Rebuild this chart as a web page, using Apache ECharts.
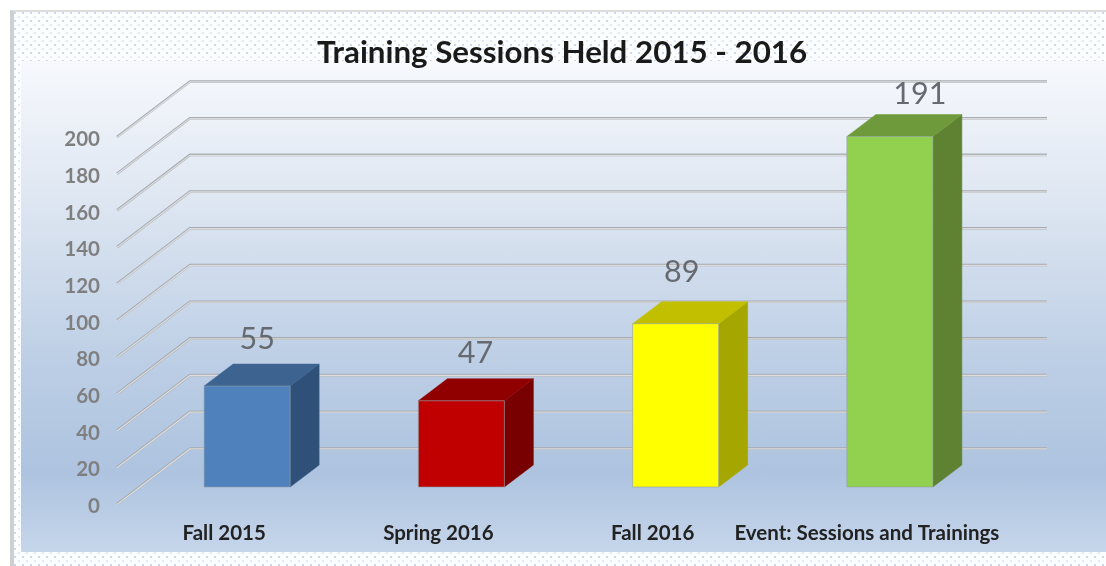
<!DOCTYPE html>
<html>
<head>
<meta charset="utf-8">
<script src="https://cdn.jsdelivr.net/npm/echarts@6/dist/echarts.min.js"></script>
<style>
html,body{margin:0;padding:0;background:#fff;width:1106px;height:566px;overflow:hidden}
#frame{position:absolute;left:10px;top:10px;right:0;bottom:0;box-sizing:border-box;
 border-left:4px solid #cfcfcf;border-top:2px solid #dcdcdc;
 background-color:#fcfdfe;
 background-image:radial-gradient(circle at 1px 1px,#c9d8ee 0.7px,transparent 1px),radial-gradient(circle at 1px 1px,#e0e8f4 0.7px,transparent 1px);
 background-size:8px 8px,8px 8px;background-position:0 0,4px 4px}
#panel{position:absolute;left:21px;top:61px;right:0;height:491px;
 background:linear-gradient(to bottom,#f7f9fd 0%,#dfe7f2 27%,#bccee5 62%,#adc3df 84%,#c6d6eb 100%)}
#chart{position:absolute;left:0;top:0;width:1106px;height:566px}
</style>
</head>
<body>
<div id="frame"></div>
<div id="panel"></div>
<div id="chart"></div>
<script>
const titleText = 'Training Sessions Held 2015 - 2016';
const categories = ['Fall 2015', 'Spring 2016', 'Fall 2016', 'Event: Sessions and Trainings'];
const sessions = [55, 47, 89, 191];
const yTicks = [0, 20, 40, 60, 80, 100, 120, 140, 160, 180, 200];

const frontColors = ['#4f81bd', '#c00000', '#ffff00', '#92d050'];
const topColors = ['#3d6391', '#900000', '#c2bf00', '#6f9a3c'];
const sideColors = ['#2f5179', '#780000', '#a6a600', '#5e8232'];
const labelShiftX = [10, 14, 6, 30];
const labelShiftY = [-47, -48, -52, -42];

const FONT = 'Lato, "Open Sans", sans-serif';
const WALL = [73, -55.5];
const BAR_INSET = [23, -17];
const BAR_W = 86;
const BAR_D = [29, -22];

const chart = echarts.init(document.getElementById('chart'), null, {renderer: 'canvas'});

function renderWall(params, api) {
  const cs = params.coordSys;
  const y = api.coord([0, api.value(1)])[1];
  const pts = [[cs.x, y], [cs.x + WALL[0], y + WALL[1]], [cs.x + cs.width + WALL[0], y + WALL[1]]];
  return {
    type: 'group',
    children: [
      {type: 'polyline', shape: {points: pts}, style: {fill: null, stroke: '#a6abb2', lineWidth: 2.6}},
      {type: 'polyline', shape: {points: pts.map(p => [p[0], p[1] + 0.4])}, style: {fill: null, stroke: '#dcdcdc', lineWidth: 1.3}}
    ]
  };
}

function renderBar(params, api) {
  const i = params.dataIndex;
  const base = api.coord([api.value(0), 0]);
  const head = api.coord([api.value(0), api.value(1)]);
  const l = base[0] + BAR_INSET[0] - BAR_W / 2, r = l + BAR_W;
  const b = base[1] + BAR_INSET[1], t = head[1] + BAR_INSET[1];
  const dx = BAR_D[0], dy = BAR_D[1];
  return {
    type: 'group',
    children: [
      {type: 'polygon', shape: {points: [[r, t], [r + dx, t + dy], [r + dx, b + dy], [r, b]]},
        style: {fill: sideColors[i], stroke: sideColors[i], lineWidth: 0.5}},
      {type: 'polygon', shape: {points: [[l, t], [l + dx, t + dy], [r + dx, t + dy], [r, t]]},
        style: {fill: topColors[i], stroke: topColors[i], lineWidth: 0.5}},
      {type: 'rect', shape: {x: l, y: t, width: BAR_W, height: b - t},
        style: {fill: frontColors[i], stroke: '#8fa0a8', lineWidth: 0.6}},
      {type: 'text', style: {
        text: String(api.value(1)),
        x: l + BAR_W / 2 + labelShiftX[i], y: t + labelShiftY[i],
        align: 'center', verticalAlign: 'middle',
        font: '400 30.5px ' + FONT, fill: '#666a70'}}
    ]
  };
}

chart.setOption({
  animation: false,
  backgroundColor: 'transparent',
  title: {
    text: titleText, left: 557, top: 32, textAlign: 'center',
    textStyle: {fontFamily: FONT, fontWeight: 700, fontSize: 31.3, color: '#1a1a1a'}
  },
  grid: {left: 117, top: 137, width: 857, height: 367},
  xAxis: {
    type: 'category', data: categories,
    axisLine: {show: false}, axisTick: {show: false}, splitLine: {show: false},
    axisLabel: {interval: 0, margin: 19, fontFamily: FONT, fontWeight: 700, fontSize: 20.5, color: '#222222'}
  },
  yAxis: {
    type: 'value', min: 0, max: 200, interval: 20,
    axisLine: {show: false}, axisTick: {show: false}, splitLine: {show: false},
    axisLabel: {
      margin: 17, formatter: '{a|{value}}',
      rich: {a: {padding: [5, 0, 0, 0], fontFamily: FONT, fontWeight: 700, fontSize: 20.5, color: '#7f7f7f'}}
    }
  },
  series: [
    {type: 'custom', name: 'Grid', z: 1, silent: true, renderItem: renderWall,
      data: yTicks.map(v => [0, v]), encode: {x: 0, y: 1}, clip: false},
    {type: 'custom', name: 'Training Sessions', z: 2, renderItem: renderBar,
      data: sessions.map((v, i) => [i, v]), encode: {x: 0, y: 1}, clip: false}
  ]
});
</script>
</body>
</html>
